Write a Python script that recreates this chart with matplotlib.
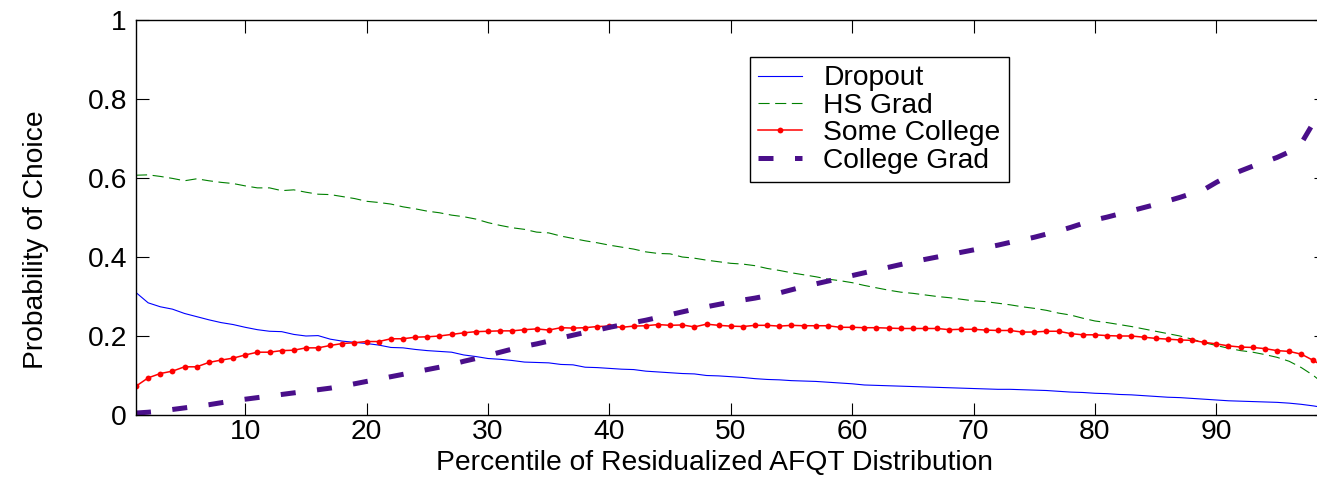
import matplotlib
matplotlib.use("Agg")
import matplotlib.pyplot as plt
import numpy as np

plt.rcParams['font.family'] = ['Liberation Sans', 'DejaVu Sans']

percentile = list(range(1, 100))

dropout = [
    0.310, 0.284, 0.274, 0.268, 0.257, 0.249, 0.241, 0.234, 0.229, 0.222,
    0.216, 0.212, 0.211, 0.204, 0.200, 0.201, 0.192, 0.187, 0.184, 0.181,
    0.177, 0.171, 0.170, 0.166, 0.163, 0.161, 0.159, 0.152, 0.148, 0.143,
    0.141, 0.138, 0.134, 0.133, 0.132, 0.128, 0.127, 0.121, 0.120, 0.118,
    0.116, 0.115, 0.111, 0.109, 0.107, 0.105, 0.104, 0.100, 0.099, 0.097,
    0.095, 0.092, 0.090, 0.089, 0.087, 0.086, 0.085, 0.083, 0.081, 0.079,
    0.076, 0.075, 0.074, 0.073, 0.072, 0.071, 0.070, 0.069, 0.068, 0.067,
    0.066, 0.065, 0.065, 0.064, 0.063, 0.062, 0.060, 0.058, 0.057, 0.055,
    0.054, 0.052, 0.051, 0.049, 0.047, 0.045, 0.044, 0.042, 0.040, 0.038,
    0.036, 0.035, 0.034, 0.033, 0.032, 0.030, 0.027, 0.023, 0.018,
]

hs_grad = [
    0.607, 0.608, 0.604, 0.599, 0.593, 0.598, 0.593, 0.589, 0.586, 0.580,
    0.575, 0.575, 0.568, 0.570, 0.564, 0.559, 0.558, 0.553, 0.548, 0.541,
    0.538, 0.534, 0.527, 0.522, 0.516, 0.512, 0.506, 0.502, 0.496, 0.487,
    0.480, 0.474, 0.470, 0.463, 0.461, 0.453, 0.447, 0.441, 0.436, 0.430,
    0.425, 0.420, 0.413, 0.409, 0.408, 0.400, 0.397, 0.392, 0.388, 0.384,
    0.382, 0.378, 0.371, 0.366, 0.360, 0.355, 0.350, 0.344, 0.340, 0.335,
    0.328, 0.322, 0.316, 0.311, 0.308, 0.304, 0.300, 0.297, 0.293, 0.289,
    0.287, 0.283, 0.279, 0.274, 0.270, 0.265, 0.258, 0.253, 0.245, 0.238,
    0.234, 0.229, 0.224, 0.218, 0.212, 0.206, 0.200, 0.192, 0.183, 0.176,
    0.169, 0.163, 0.159, 0.153, 0.146, 0.136, 0.120, 0.100, 0.075,
]

some_college = [
    0.073, 0.094, 0.105, 0.111, 0.122, 0.122, 0.133, 0.139, 0.144, 0.152,
    0.159, 0.159, 0.163, 0.164, 0.170, 0.170, 0.176, 0.181, 0.183, 0.186,
    0.186, 0.193, 0.193, 0.197, 0.198, 0.200, 0.204, 0.208, 0.211, 0.212,
    0.213, 0.213, 0.216, 0.218, 0.215, 0.221, 0.220, 0.221, 0.224, 0.225,
    0.222, 0.225, 0.226, 0.229, 0.227, 0.228, 0.223, 0.230, 0.227, 0.225,
    0.224, 0.227, 0.227, 0.225, 0.227, 0.226, 0.226, 0.226, 0.222, 0.222,
    0.221, 0.221, 0.220, 0.219, 0.219, 0.219, 0.219, 0.216, 0.217, 0.217,
    0.215, 0.214, 0.214, 0.210, 0.210, 0.212, 0.212, 0.206, 0.203, 0.203,
    0.201, 0.200, 0.200, 0.197, 0.194, 0.192, 0.190, 0.189, 0.184, 0.180,
    0.175, 0.172, 0.171, 0.168, 0.163, 0.161, 0.154, 0.138, 0.120,
]

college_grad = [
    0.005, 0.007, 0.010, 0.014, 0.018, 0.022, 0.026, 0.031, 0.036, 0.040,
    0.044, 0.048, 0.052, 0.056, 0.060, 0.064, 0.068, 0.073, 0.079, 0.085,
    0.091, 0.097, 0.103, 0.109, 0.115, 0.121, 0.128, 0.136, 0.143, 0.151,
    0.159, 0.167, 0.174, 0.180, 0.187, 0.195, 0.202, 0.209, 0.215, 0.222,
    0.228, 0.234, 0.240, 0.247, 0.254, 0.261, 0.268, 0.274, 0.280, 0.286,
    0.291, 0.296, 0.302, 0.309, 0.317, 0.325, 0.332, 0.339, 0.346, 0.353,
    0.360, 0.367, 0.374, 0.381, 0.388, 0.394, 0.400, 0.406, 0.412, 0.418,
    0.424, 0.430, 0.437, 0.443, 0.450, 0.458, 0.466, 0.475, 0.485, 0.494,
    0.501, 0.509, 0.517, 0.525, 0.533, 0.542, 0.551, 0.561, 0.571, 0.589,
    0.605, 0.618, 0.630, 0.641, 0.652, 0.666, 0.688, 0.740, 0.800,
]

series_labels = ["Dropout", "HS Grad", "Some College", "College Grad"]
x_ticks = [10, 20, 30, 40, 50, 60, 70, 80, 90]
y_ticks = [0, 0.2, 0.4, 0.6, 0.8, 1.0]
y_tick_labels = ["0", "0.2", "0.4", "0.6", "0.8", "1"]
x_label = "Percentile of Residualized AFQT Distribution"
y_label = "Probability of Choice"

W, H = 1317, 484
fig = plt.figure(figsize=(W / 100, H / 100), dpi=100)
ax_left, ax_right, ax_top, ax_bottom = 136, 1325.6, 20, 415
ax_w, ax_h = ax_right - ax_left, ax_bottom - ax_top
ax = fig.add_axes([ax_left / W, 1 - ax_bottom / H, ax_w / W, ax_h / H])

FS = 20.3
ax.plot(percentile, dropout, color=(0, 0, 1), lw=0.8, label=series_labels[0])
ax.plot(percentile, hs_grad, color=(0, 0.5, 0), lw=0.8,
        linestyle=(0, (10, 5)), label=series_labels[1])
ax.plot(percentile, some_college, color=(1, 0, 0), lw=1.1, marker='o',
        markersize=4.2, markeredgewidth=0, label=series_labels[2])
ax.plot(percentile, college_grad, color=(0.29, 0.06, 0.54), lw=3.6,
        linestyle=(0, (3.0, 4.3)), dash_capstyle='butt',
        label=series_labels[3])

ax.set_xlim(1, 99)
ax.set_ylim(0, 1)
ax.set_xticks(x_ticks)
ax.set_yticks(y_ticks)
ax.set_yticklabels(y_tick_labels)
ax.tick_params(direction='in', length=9, width=0.8, top=True, right=True,
               labelsize=FS, colors='black')
ax.tick_params(axis='y', pad=6.5)
ax.tick_params(axis='x', pad=3)
for s in ax.spines.values():
    s.set_linewidth(1.0)

ax.set_xlabel(x_label, fontsize=FS)
ax.xaxis.set_label_coords((715 - ax_left) / ax_w, (ax_bottom - 450) / ax_h)
ax.set_ylabel(y_label, fontsize=FS)
ax.yaxis.set_label_coords((49 - ax_left) / ax_w, (ax_bottom - 240) / ax_h)

leg_x = (750 - ax_left) / ax_w
leg_y = (ax_bottom - 57) / ax_h
leg = ax.legend(loc='upper left', bbox_to_anchor=(leg_x, leg_y),
                borderaxespad=0, fontsize=FS, fancybox=False, frameon=True,
                edgecolor='black', framealpha=1, handlelength=1.55,
                handletextpad=0.75, labelspacing=0.05, borderpad=0.3,
                numpoints=1)
leg.get_frame().set_linewidth(1.0)

fig.savefig("out.png", dpi=100)
